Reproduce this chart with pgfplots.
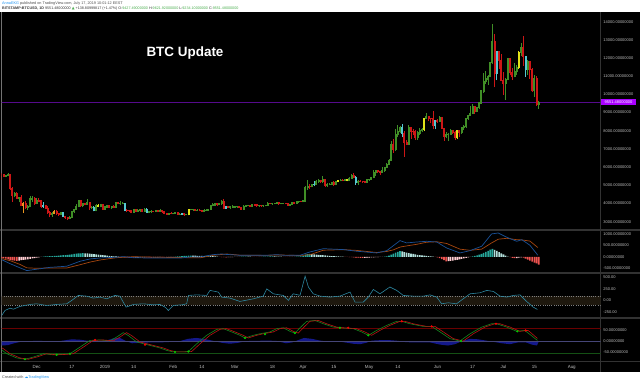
\documentclass[border=0pt]{standalone}
\usepackage{fontspec}
\setmainfont{Liberation Sans}
\newfontfamily\symfont{DejaVu Sans}
\usepackage{pgfplots}
\usepackage{pgfplotstable}
\pgfplotsset{compat=1.18}
\definecolor{cgreen}{RGB}{64,142,38}
\definecolor{cred}{RGB}{205,22,22}
\definecolor{cyel}{RGB}{225,225,25}
\definecolor{ccyan}{RGB}{85,200,210}
\definecolor{corange}{RGB}{235,150,30}
\definecolor{hteal}{RGB}{38,166,154}
\definecolor{hlteal}{RGB}{178,223,219}
\definecolor{hpink}{RGB}{255,205,210}
\definecolor{hred}{RGB}{239,83,80}
\definecolor{macdblue}{RGB}{25,80,150}
\definecolor{macdorange}{RGB}{165,70,15}
\definecolor{ccicol}{RGB}{45,135,160}
\definecolor{band}{RGB}{30,24,14}
\definecolor{sep}{RGB}{50,50,50}
\definecolor{lbl}{RGB}{190,190,190}
\definecolor{lastp}{RGB}{85,10,140}
\definecolor{lastbox}{RGB}{170,0,255}
\definecolor{wtred}{RGB}{185,20,20}
\definecolor{wtgreen}{RGB}{20,135,30}
\definecolor{lvlred}{RGB}{105,0,0}
\definecolor{lvlgreen}{RGB}{20,80,20}
\definecolor{lvlblue}{RGB}{70,70,120}
\definecolor{wtarea}{RGB}{20,25,140}
\definecolor{tvblue}{RGB}{33,150,243}
\definecolor{tvgreen}{RGB}{76,175,80}
\definecolor{hdr}{RGB}{80,80,80}

\pgfplotstableread{
d o h l c k
-16 5620 5660 5320 5570 1
-15 5570 5600 5450 5510 1
-14 5510 5550 5480 5530 0
-13 5530 5640 5510 5570 0
-12 5570 5610 4780 4810 1
-11 4810 4880 4100 4450 1
-10 4450 4620 4350 4570 0
-9 4570 4600 4260 4290 1
-8 4290 4370 4080 4340 0
-7 4340 4430 3880 3900 1
-6 3900 4080 3480 4000 4
-5 4000 4110 3700 3770 1
-4 3770 3880 3650 3830 0
-3 3830 4380 3830 4250 0
-2 4250 4420 4100 4270 0
-1 4270 4320 3920 4010 1
0 4010 4290 4000 4190 0
1 4190 4300 4100 4140 1
2 4140 4140 3780 3830 1
3 3830 4050 3760 3910 3
4 3910 3920 3740 3750 1
5 3750 3850 3460 3500 1
6 3500 3580 3250 3400 1
7 3400 3510 3300 3440 0
8 3440 3630 3440 3560 4
9 3560 3620 3400 3440 1
10 3440 3450 3350 3400 1
11 3400 3510 3380 3480 0
12 3480 3480 3260 3290 3
13 3290 3320 3180 3220 1
14 3220 3260 3120 3200 1
15 3200 3280 3180 3240 0
16 3240 3600 3220 3540 0
17 3540 3700 3480 3690 0
18 3690 3950 3680 3830 0
19 3830 4200 3800 4140 0
20 4140 4190 3820 3880 1
21 3880 4000 3820 3990 0
22 3990 4040 3910 3960 1
23 3960 4240 3940 4030 0
24 4030 4030 3660 3770 1
25 3770 3860 3700 3800 0
26 3800 3850 3580 3600 3
27 3600 3940 3580 3880 0
28 3880 3960 3810 3830 2
29 3830 3960 3800 3930 0
30 3930 3950 3680 3700 1
31 3700 3840 3680 3810 0
32 3810 3920 3780 3880 0
33 3880 3880 3760 3780 1
34 3780 3830 3740 3820 0
35 3820 3880 3780 3800 1
36 3800 4080 3780 4040 0
37 4040 4060 3980 3990 1
38 3990 4110 3960 4000 0
39 4000 4060 3990 4010 0
40 4010 4030 3590 3630 3
41 3630 3690 3570 3620 1
42 3620 3630 3560 3600 1
43 3600 3620 3480 3510 1
44 3510 3700 3500 3660 0
45 3660 3690 3560 3580 1
46 3580 3680 3570 3620 0
47 3620 3660 3570 3650 0
48 3650 3660 3560 3590 1
49 3590 3750 3590 3690 0
50 3690 3730 3500 3530 3
51 3530 3580 3510 3550 0
52 3550 3620 3480 3580 0
53 3580 3600 3540 3560 1
54 3560 3610 3550 3590 0
55 3590 3600 3530 3580 1
56 3580 3680 3570 3590 0
57 3590 3610 3520 3550 1
58 3550 3560 3420 3440 1
59 3440 3450 3390 3420 1
60 3420 3490 3410 3470 0
61 3470 3510 3430 3440 1
62 3440 3490 3420 3470 0
63 3470 3510 3450 3500 0
64 3500 3500 3390 3410 1
65 3410 3440 3400 3420 0
66 3420 3440 3400 3430 3
67 3430 3440 3350 3380 1
68 3380 3400 3370 3380 0
69 3380 3710 3370 3650 2
70 3650 3680 3640 3660 0
71 3660 3710 3620 3690 0
72 3690 3690 3600 3620 1
73 3620 3670 3580 3630 0
74 3630 3680 3590 3610 1
75 3610 3630 3570 3590 1
76 3590 3660 3580 3600 0
77 3600 3680 3600 3630 0
78 3630 3700 3600 3680 0
79 3680 3920 3670 3900 0
80 3900 4000 3860 3920 0
81 3920 4000 3900 3980 0
82 3980 4010 3900 3930 1
83 3930 4000 3920 3980 0
84 3980 4180 3960 4130 0
85 4130 4210 3730 3740 1
86 3740 3850 3730 3820 3
87 3820 3830 3770 3800 1
88 3800 3850 3700 3810 0
89 3810 3890 3780 3810 0
90 3810 3860 3800 3820 0
91 3820 3840 3790 3820 0
92 3820 3830 3760 3790 1
93 3790 3800 3690 3700 1
94 3700 3880 3690 3860 0
95 3860 3900 3830 3870 0
96 3870 3910 3860 3880 0
97 3880 3930 3830 3860 1
98 3860 3950 3860 3940 0
99 3940 3940 3890 3920 1
100 3920 3930 3850 3870 1
101 3870 3890 3820 3880 0
102 3880 3890 3850 3870 1
103 3870 3920 3830 3870 0
104 3870 3930 3870 3910 0
105 3910 4050 3910 4020 0
106 4020 4020 3970 3990 1
107 3990 4030 3960 3990 0
108 3990 4030 3980 4020 0
109 4020 4060 4000 4040 0
110 4040 4060 3950 3980 1
111 3980 4000 3970 3990 0
112 3990 4010 3980 4000 0
113 4000 4000 3970 3990 1
114 3990 4000 3880 3920 1
115 3920 3960 3910 3950 0
116 3950 4060 3940 4050 0
117 4050 4060 4020 4030 1
118 4030 4120 4020 4100 0
119 4100 4130 4060 4110 0
120 4110 4120 4090 4100 1
121 4100 4160 4090 4140 0
122 4140 4950 4140 4900 0
123 4900 5300 4780 4950 0
124 4950 5050 4830 4920 1
125 4920 5050 4910 5030 0
126 5030 5200 4960 5060 3
127 5060 5280 5050 5200 0
128 5200 5350 5160 5280 0
129 5280 5290 5150 5190 1
130 5190 5480 5160 5330 0
131 5330 5350 4950 5020 1
132 5020 5100 4930 5070 0
133 5070 5120 5040 5070 0
134 5070 5180 5030 5150 0
135 5150 5200 4990 5030 1
136 5030 5230 5020 5210 0
137 5210 5270 5180 5250 2
138 5250 5320 5240 5290 0
139 5290 5350 5230 5270 1
140 5270 5340 5260 5320 0
141 5320 5330 5230 5290 2
142 5290 5430 5270 5380 0
143 5380 5600 5370 5530 0
144 5530 5650 5400 5450 1
145 5450 5520 5050 5180 3
146 5180 5300 5050 5230 0
147 5230 5270 5200 5220 1
148 5220 5240 5170 5200 1
149 5200 5220 5120 5170 1
150 5170 5320 5160 5300 0
151 5300 5350 5280 5330 0
152 5330 5460 5320 5420 0
153 5420 5850 5410 5720 0
154 5720 5850 5550 5800 0
155 5800 5800 5690 5750 1
156 5750 5780 5610 5700 1
157 5700 5990 5700 5820 0
158 5820 6010 5760 5990 0
159 5990 6200 5980 6160 0
160 6160 6450 6140 6360 0
161 6360 7450 6350 7240 0
162 7240 7550 6800 6960 1
163 6960 8070 6900 7800 0
164 7800 8300 7650 7980 0
165 7980 8250 7880 8200 0
166 8200 8350 7650 7870 3
167 7870 7950 6600 7350 1
168 7350 7480 7230 7260 1
169 7260 8280 7260 8180 0
170 8180 8180 7580 7970 1
171 7970 8080 7800 7960 1
172 7960 8010 7500 7620 1
173 7620 7980 7520 7880 0
174 7880 8150 7800 8000 0
175 8000 8150 7960 8060 0
176 8060 8700 8000 8700 2
177 8700 8950 8650 8760 0
178 8760 8780 8550 8700 1
179 8700 8700 8420 8660 1
180 8660 9070 8100 8280 1
181 8280 8580 8100 8560 3
182 8560 8620 8460 8540 1
183 8540 8800 8530 8740 0
184 8740 8770 8100 8130 1
185 8130 8140 7480 7680 1
186 7680 7900 7600 7780 0
187 7780 7870 7450 7800 0
188 7800 8100 7770 8000 0
189 8000 8050 7840 7930 1
190 7930 7950 7520 7630 1
191 7630 8040 7550 8000 2
192 8000 8020 7690 7900 1
193 7900 8210 7830 8170 0
194 8170 8320 8050 8230 0
195 8230 8690 8180 8690 0
196 8690 8860 8620 8840 0
197 8840 9350 8830 8970 0
198 8970 9450 8970 9320 0
199 9320 9340 8940 9070 1
200 9070 9300 9050 9270 0
201 9270 9590 9230 9530 0
202 9530 10200 9530 10190 0
203 10190 11180 10080 10710 0
204 10710 11250 10600 10850 0
205 10850 11080 10560 11000 0
206 11000 11770 10970 11760 0
207 11760 13880 11680 12930 0
208 12930 13300 10400 11150 1
209 11150 12400 10800 12350 3
210 12350 12400 11400 11880 1
211 11880 12200 10750 10780 1
212 10780 11200 10000 10600 1
213 10600 10900 9700 10830 0
214 10830 11980 10800 11950 0
215 11950 12000 11080 11200 1
216 11200 11430 10800 11000 1
217 11000 11700 10950 11250 0
218 11250 11600 11080 11470 0
219 11470 12350 11400 12300 2
220 12300 12800 12150 12580 0
221 12580 13190 11600 12100 1
222 12100 12100 11000 11350 3
223 11350 11900 11100 11800 0
224 11800 11850 10850 11380 1
225 11380 11450 10150 10200 1
226 10200 11050 9900 10850 0
227 10850 11000 9400 9430 1
228 9430 9620 9230 9551 0
}\candles

\pgfplotstableread{
d h k
-16 -60 3
-15 -70 3
-14 -85 3
-13 -110 3
-12 -140 3
-11 -160 3
-10 -170 3
-9 -175 3
-8 -165 2
-7 -150 2
-6 -140 2
-5 -125 2
-4 -110 2
-3 -90 2
-2 -70 2
-1 -55 2
0 -40 2
1 -25 2
2 -10 2
3 5 0
4 12 0
5 18 0
6 24 0
7 30 0
8 36 0
9 42 0
10 50 0
11 58 0
12 66 0
13 74 0
14 84 0
15 96 0
16 108 0
17 120 0
18 132 0
19 142 0
20 150 0
21 154 0
22 150 1
23 144 1
24 136 1
25 126 1
26 116 1
27 104 1
28 92 1
29 82 1
30 72 1
31 62 1
32 52 1
33 42 1
34 32 1
35 22 1
36 12 1
37 4 1
38 -6 3
39 -14 3
40 -22 3
41 -28 3
42 -34 3
43 -38 3
44 -40 3
45 -38 2
46 -35 2
47 -32 2
48 -30 2
49 -28 2
50 -30 3
51 -32 3
52 -34 3
53 -30 2
54 -26 2
55 -22 2
56 -20 2
57 -22 3
58 -24 3
59 -20 2
60 -14 2
61 -8 2
62 -3 2
63 6 0
64 14 0
65 22 0
66 30 0
67 36 0
68 42 0
69 48 0
70 52 0
71 50 1
72 46 1
73 42 1
74 38 1
75 34 1
76 32 1
77 36 0
78 40 0
79 36 1
80 28 1
81 18 1
82 8 1
83 -4 3
84 -12 3
85 -18 3
86 -22 3
87 -20 2
88 -16 2
89 -12 2
90 -8 2
91 -6 2
92 -4 2
93 2 0
94 5 0
95 6 0
96 5 1
97 3 1
98 -3 3
99 -6 3
100 -8 3
101 -6 2
102 -4 2
103 2 0
104 6 0
105 10 0
106 14 0
107 16 0
108 14 1
109 10 1
110 6 1
111 2 1
112 -3 3
113 -8 3
114 -10 3
115 -8 2
116 -5 2
117 -2 2
118 4 0
119 10 0
120 20 0
121 50 0
122 90 0
123 110 0
124 120 0
125 116 1
126 106 1
127 96 1
128 86 1
129 76 1
130 66 1
131 56 1
132 46 1
133 38 1
134 30 1
135 24 1
136 18 1
137 12 1
138 6 1
139 2 1
140 -5 3
141 -10 3
142 -15 3
143 -20 3
144 -28 3
145 -35 3
146 -40 3
147 -45 3
148 -48 3
149 -45 2
150 -40 2
151 -35 2
152 -30 2
153 -25 2
154 -20 2
155 -15 2
156 -10 2
157 -5 2
158 5 0
159 20 0
160 50 0
161 90 0
162 140 0
163 180 0
164 215 0
165 240 0
166 230 1
167 200 1
168 180 1
169 160 1
170 140 1
171 120 1
172 100 1
173 85 1
174 70 1
175 60 1
176 50 1
177 40 1
178 30 1
179 20 1
180 10 1
181 -10 3
182 -30 3
183 -60 3
184 -100 3
185 -150 3
186 -195 3
187 -190 2
188 -180 2
189 -165 2
190 -150 2
191 -130 2
192 -110 2
193 -90 2
194 -70 2
195 -50 2
196 -30 2
197 -10 2
198 15 0
199 35 0
200 60 0
201 90 0
202 130 0
203 170 0
204 210 0
205 260 0
206 310 0
207 340 0
208 300 1
209 250 1
210 200 1
211 150 1
212 100 1
213 50 1
214 10 1
215 -20 3
216 -45 3
217 -60 3
218 -55 2
219 -40 2
220 -30 2
221 -40 3
222 -80 3
223 -120 3
224 -170 3
225 -210 3
226 -250 3
227 -290 3
228 -340 3
}\hist

\pgfplotstableread{
d v
-15.9 -125
-12.1 -300
-7.6 -480
-4.5 -600
0 -540
6.0 -460
13.6 -410
19.7 -195
24.2 -95
28.7 -52
36.3 -20
39.5 5
43.7 -40
51 -55
59.0 -52
66 -50
70 -5
74.2 -9
80.1 91
84 120
86.3 100
92.3 65
104.5 65
109.0 90
113 60
119.6 65
124.1 208
130.2 350
139.3 310
145.3 240
154.4 165
159.0 265
165.0 700
168.0 600
172.6 640
177.1 670
181.7 640
186.2 380
192.2 165
196.8 265
202.1 455
206.6 990
209.6 1030
213.5 845
218.0 670
220.3 740
224.0 500
227.6 65
}\macd

\pgfplotstableread{
d v
-15.9 -80
-12.1 -170
-7.6 -330
-4.5 -480
0 -500
6.0 -484
13.6 -490
19.7 -345
24.2 -231
28.7 -142
36.0 -42
43.7 0
59.0 -28
74.2 -47
80.1 63
86.3 120
92.3 69
104.5 59
109.0 80
119.6 55
124.1 88
130.2 284
139.3 308
145.3 275
154.4 185
159.0 230
162.0 300
165.0 420
168.0 470
172.6 540
177.1 630
181.7 650
186.2 575
192.2 330
196.8 280
202.1 330
206.6 600
209.6 760
213.5 800
218.0 740
220.3 730
224.0 680
227.6 400
}\sig

\pgfplotstableread{
d v
-15.9 -325
-14.4 -217
-12.1 -167
-10.6 -190
-7.6 -130
-3.0 -87
0 -73
4.5 -109
9.1 -87
13.6 -73
15.9 0
18.9 108
22.7 93
25.7 50
28.7 72
31.8 35
35.5 108
37.8 93
39.3 -37
40.6 -145
43.9 -87
48.4 -73
53.0 -95
56.0 -87
58.3 -145
59.8 -217
62.0 -109
65.9 -95
68.1 -73
68.9 108
72.7 120
77.2 108
78.7 216
82.5 180
84.0 72
87.8 50
92.3 -22
98.4 35
102.9 93
104.5 250
107.5 143
112.0 108
114.3 0
116.5 143
119.6 110
121.9 525
123.4 290
125.6 143
128.7 93
133.2 72
137.7 93
142.3 180
144.6 -37
148.3 -37
150.6 72
152.9 237
155.9 143
160.4 290
163.5 216
166.5 108
171.1 93
175.6 93
178.6 120
181.7 72
183.9 -73
186.9 -51
190.7 -73
193.7 35
196.8 143
201.3 165
204.4 216
207.4 195
210.4 93
213.5 72
216.5 108
219.5 120
222.5 -22
225.5 -145
227.4 -195
}\cci

\pgfplotstableread{
d v
-16.67 -32
-13.6 -55
-9.1 -74
-5.3 -80
-1.5 -70
3.0 -55
7.5 -60
12.1 -58
15.1 -55
19.7 -25
24.2 5
28.7 7
33.3 3
36.3 20
39.3 40
41.6 27
45.4 -2
50.0 -14
56.0 -29
59.0 -40
62.0 -47
66.6 -47
68.9 -45
72.7 -10
77.2 28
81.8 55
84.7 58
88.6 43
92.3 28
94.6 16
98.4 28
101.4 35
105.9 43
109.0 58
112.0 62
115.0 46
117.3 38
119.6 62
122.6 91
126.4 95
130.2 80
134.7 65
137.7 62
143.8 58
147.6 43
150.6 28
154.4 50
159.0 73
163.5 91
165.8 91
169.5 80
175.6 68
179.4 68
183.2 43
187.7 13
192.2 2
196.8 35
202.1 65
206.6 80
208.9 80
213.5 65
218.0 46
221.7 50
225.5 20
227.4 5
}\wtone

\pgfplotstableread{
d v
-16.67 -25
-15.2 -32
-12.1 -55
-7.6 -74
-3.8 -80
0.0 -70
4.5 -55
9.0 -60
13.6 -58
16.6 -55
21.2 -25
25.7 5
30.2 7
34.8 3
37.8 20
40.8 40
43.1 27
46.9 -2
51.5 -14
57.5 -29
60.5 -40
63.5 -47
68.1 -47
70.4 -45
74.2 -10
78.7 28
83.3 55
86.2 58
90.1 43
93.8 28
96.1 16
99.9 28
102.9 35
107.4 43
110.5 58
113.5 62
116.5 46
118.8 38
121.1 62
124.1 91
127.9 95
131.7 80
136.2 65
139.2 62
145.3 58
149.1 43
152.1 28
155.9 50
160.5 73
165.0 91
167.3 91
171.0 80
177.1 68
180.9 68
184.7 43
189.2 13
193.7 2
198.3 35
203.6 65
208.1 80
210.4 80
215.0 65
219.5 46
223.2 50
227.4 14
}\wttwo

\pgfplotstableread{
d v
-16.67 -16
-15.76 -18
-13.0 -16
-10.3 -8
-7.6 -2
-3.0 2
1.5 3
6.0 0
10.6 2
13.3 6
16.0 10
19.7 8
24.2 2
28.7 -2
31.9 5
34.7 14
37.8 16
40.6 2
43.3 -8
46.9 -6
51.5 -4
56.0 -4
60.5 -2
65.1 2
68.7 12
72.4 16
76.0 12
79.6 4
84.2 -6
87.8 -10
91.4 -6
95.1 2
99.6 3
104.1 4
108.7 3
113.2 -8
116.0 -4
118.7 6
121.4 16
125.0 12
128.7 4
133.2 -2
138.7 -2
143.7 -10
146.8 -12
149.6 -6
152.3 4
155.9 6
160.4 6
164.1 3
167.7 -3
172.3 -4
178.6 -4
183.2 -14
186.8 -18
190.0 -12
193.2 2
196.8 12
200.4 10
204.1 4
207.7 -2
211.3 -8
214.9 -12
218.6 -4
222.2 -4
224.9 -14
227.2 -18
228.0 0
}\wtarea

\pgfplotstableread{
d v
-5.3 -80
9.1 -60
15.1 -55
62.8 -47
68.9 -45
94.6 16
103.7 33
117.3 38
137.7 62
150.6 28
192.7 2
218.3 46
}\dotsg

\pgfplotstableread{
d v
26.5 7
49.2 -14
141.5 62
165.8 91
179.4 68
208.6 80
222.1 50
}\dotsr

\pgfplotsset{
  /pgf/number format/assume math mode=true,
  panel/.style={
    scale only axis, width=599.2bp, anchor=south west,
    xmin=-15.99, xmax=256.15,
    axis line style={draw=none}, major tick length=0pt, tick style={draw=none},
    xtick=\empty, yticklabel pos=right, scaled y ticks=false,
    yticklabel style={font=\fontsize{4}{4}\selectfont, text=lbl, anchor=west,
      inner sep=0pt, xshift=2.5bp,
      /pgf/number format/fixed, /pgf/number format/fixed zerofill,
      /pgf/number format/precision=8, /pgf/number format/1000 sep={}},
    clip=true,
  }
}

\newcommand\candleplot[2]{%
  \addplot[forget plot, draw=#2, line width=1.0bp, mark=none, -,
    restrict expr to domain={\thisrow{k}}{#1:#1},
    quiver={u=0, v={\thisrow{h}-\thisrow{l}+30}}]
    table[x=d, y expr={\thisrow{l}-15}] {\candles};
  \addplot[forget plot, draw=#2, line width=2.0bp, mark=none, -,
    restrict expr to domain={\thisrow{k}}{#1:#1},
    quiver={u=0, v={abs(\thisrow{c}-\thisrow{o})+60}}]
    table[x=d, y expr={min(\thisrow{o},\thisrow{c})-30}] {\candles};
}
\newcommand\histplot[2]{%
  \addplot[forget plot, ybar, bar width=1.6bp, bar shift=0pt, draw=none, fill=#2,
    restrict expr to domain={\thisrow{k}}{#1:#1}] table[x=d, y=h] {\hist};
}

\begin{document}
\begin{tikzpicture}
\path[use as bounding box] (0bp,0bp) rectangle (640bp,383bp);
\fill[white] (0bp,0bp) rectangle (640bp,383bp);
\fill[black] (0bp,11.3bp) rectangle (640bp,370.7bp);
\draw[sep, line width=1.2bp] (0bp,153bp) -- (640bp,153bp);
\draw[sep, line width=1.2bp] (0bp,110bp) -- (640bp,110bp);
\draw[sep, line width=1.2bp] (0bp,65bp) -- (640bp,65bp);
\draw[sep, line width=1.2bp] (0bp,21.3bp) -- (640bp,21.3bp);
\draw[sep, line width=1bp] (600.7bp,11.3bp) -- (600.7bp,370.7bp);
\draw[black!55, line width=0.8bp] (1bp,11.3bp) -- (1bp,370.7bp);

% main price panel
\begin{axis}[panel, at={(1.5bp,153bp)}, height=217.7bp,
  ymin=2543, ymax=14517, ytick={3000,4000,...,14000}]
  \addplot[lastp, line width=0.6bp, forget plot] coordinates {(-20,9551.48) (260,9551.48)};
  \candleplot{0}{cgreen}
  \candleplot{1}{cred}
  \candleplot{2}{cyel}
  \candleplot{3}{ccyan}
  \candleplot{4}{corange}
\end{axis}

% MACD panel
\begin{axis}[panel, at={(1.5bp,110bp)}, height=43bp,
  ymin=-704, ymax=1160, ytick={-500,0,500,1000}]
  \histplot{0}{hteal}
  \histplot{1}{hlteal}
  \histplot{2}{hpink}
  \histplot{3}{hred}
  \addplot[macdorange, line width=0.7bp, no marks] table[x=d, y=v] {\sig};
  \addplot[macdblue, line width=0.7bp, no marks] table[x=d, y=v] {\macd};
\end{axis}

% CCI panel
\begin{axis}[panel, at={(1.5bp,65bp)}, height=45bp,
  ymin=-380, ymax=593, ytick={-250,0,250,500},
  yticklabel style={/pgf/number format/precision=2}]
  \addplot[band, line width=9.25bp, forget plot] coordinates {(-20,0) (260,0)};
  \addplot[black!50, line width=0.6bp, dash pattern=on 1bp off 1.2bp, forget plot] coordinates {(-20,100) (260,100)};
  \addplot[black!50, line width=0.6bp, dash pattern=on 1bp off 1.2bp, forget plot] coordinates {(-20,-100) (260,-100)};
  \addplot[ccicol, line width=0.6bp, no marks] table[x=d, y=v] {\cci};
\end{axis}

% WaveTrend panel
\begin{axis}[panel, at={(1.5bp,21.3bp)}, height=43.7bp,
  ymin=-91, ymax=106, ytick={-50,0,50},
  xtick={0,16,31,44,62,75,90,107,121,135,151,164,182,198,212,226,243},
  xticklabels={Dec,17,2019,14,Feb,14,Mar,18,Apr,15,May,14,Jun,17,Jul,15,Aug},
  xticklabel style={font=\fontsize{4.5}{4.5}\selectfont, text=lbl, inner sep=0pt,
    anchor=north, yshift=-3.6bp}]
  \addplot[fill=wtarea, draw=none, forget plot] table[x=d, y=v] {\wtarea} \closedcycle;
  \addplot[lvlred, line width=1.4bp, forget plot] coordinates {(-20,60) (260,60)};
  \addplot[lvlblue, line width=0.6bp, forget plot] coordinates {(-20,0) (260,0)};
  \addplot[lvlgreen, line width=0.9bp, forget plot] coordinates {(-20,-55) (260,-55)};
  \addplot[wtgreen, line width=0.6bp, no marks] table[x=d, y=v] {\wtone};
  \addplot[wtred, line width=0.6bp, no marks] table[x=d, y=v] {\wttwo};
  \addplot[only marks, mark=*, mark size=0.9bp, color=green!80!black, mark options={draw=none, fill=green!75!black}] table[x=d, y=v] {\dotsg};
  \addplot[only marks, mark=*, mark size=0.9bp, color=red, mark options={draw=none, fill=red!85!black}] table[x=d, y=v] {\dotsr};
\end{axis}

% last price box
\node[fill=lastbox, text=white, font=\fontsize{4}{4}\selectfont, inner sep=0pt,
  minimum width=34.7bp, minimum height=6.3bp, anchor=west] at (601bp,280.8bp) {9551.48000000};

% title
\node[text=white, font=\bfseries\fontsize{13.5}{14}\selectfont] at (185bp,330bp) {BTC Update};

% header
\node[anchor=west, inner sep=0pt, text=hdr, font=\fontsize{3.8}{4}\selectfont] at (2bp,379.2bp)
  {\textcolor{tvblue}{AnnaEKG} published on TradingView.com, July 17, 2019 10:01:12 EEST};
\node[anchor=west, inner sep=0pt, text=hdr!70!black, font=\fontsize{3.7}{4}\selectfont] at (2bp,374.7bp)
  {\textbf{BITSTAMP:BTCUSD, 1D} 9551.48000000 \textcolor{tvgreen}{\symfont ▲} +138.80999817 (+1.47\%) O:\textcolor{tvgreen}{9427.49000000} H:\textcolor{tvgreen}{9621.92000000} L:\textcolor{tvgreen}{9234.10000000} C:\textcolor{tvgreen}{9551.48000000}};

% footer
\node[anchor=west, inner sep=0pt, text=hdr, font=\fontsize{3.8}{4}\selectfont] at (2bp,5.8bp)
  {Created with \textcolor{tvblue}{\symfont ☁}\textcolor{tvblue}{TradingView}};
\end{tikzpicture}
\end{document}
